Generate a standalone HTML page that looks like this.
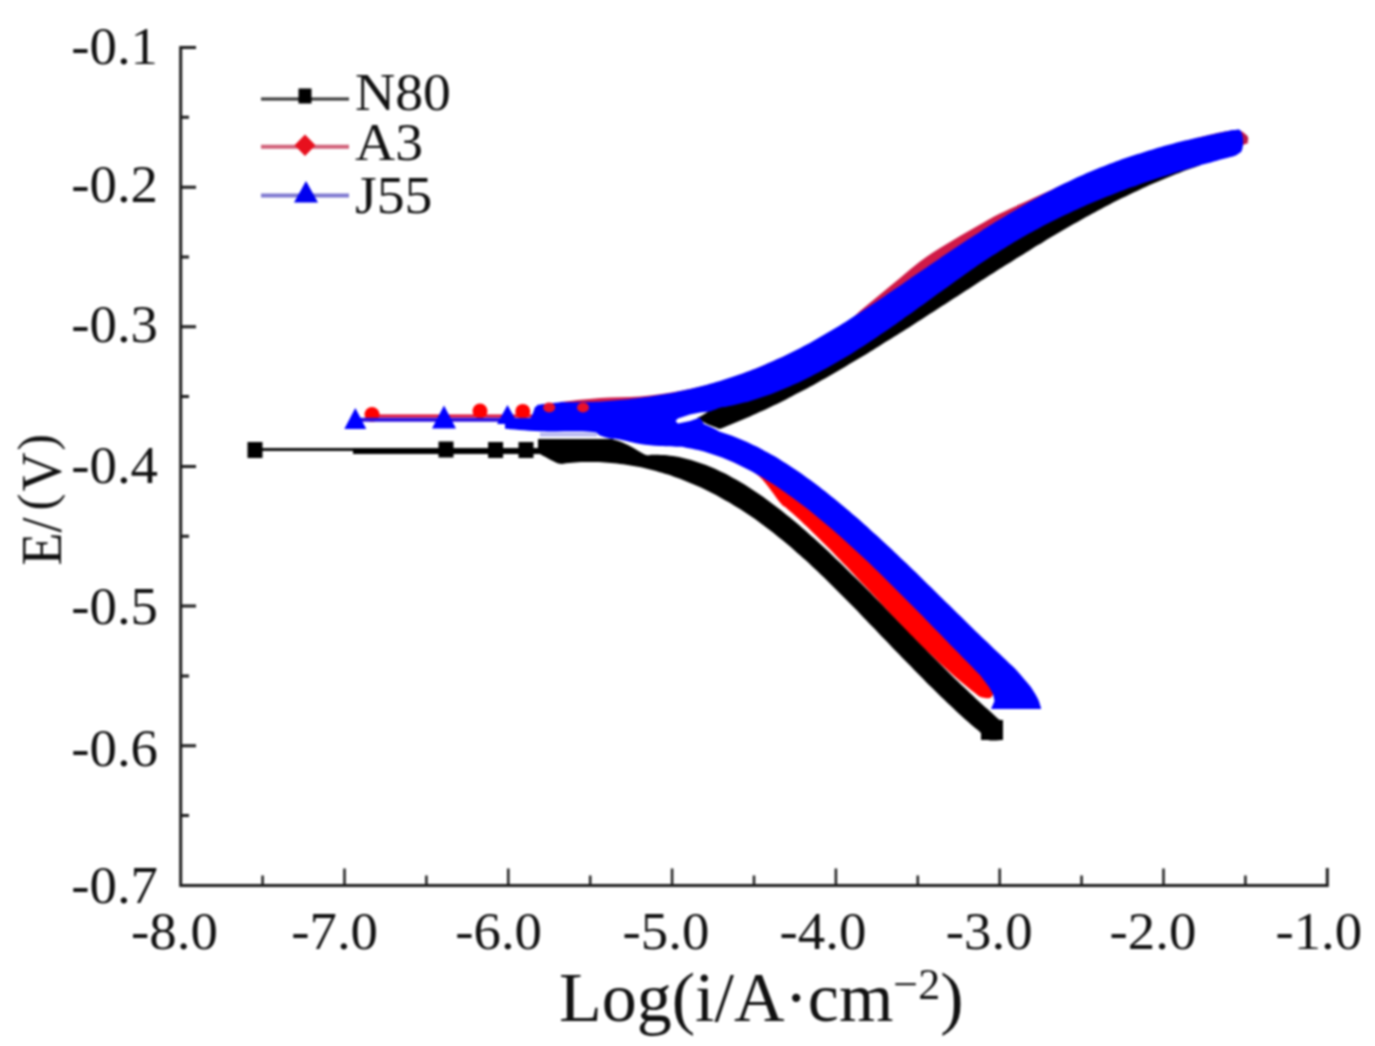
<!DOCTYPE html>
<html><head><meta charset="utf-8"><style>
html,body{margin:0;padding:0;background:#fff;width:1375px;height:1046px;overflow:hidden}
svg{display:block;filter:blur(0.8px)}
text{font-family:"Liberation Serif",serif;fill:#111}
</style></head><body>
<svg width="1375" height="1046" viewBox="0 0 1375 1046">
<rect width="1375" height="1046" fill="#fff"/>
<!-- axes -->
<g stroke="#1c1c1c" stroke-width="3" fill="none" stroke-linecap="butt">
<path d="M196 47.5H180.7V885.5H1327.3V868"/>
<path d="M181 117.3h8 M181 187.2h15 M181 257.0h8 M181 326.8h15 M181 396.6h8 M181 466.5h15 M181 536.3h8 M181 606.1h15 M181 675.9h8 M181 745.8h15 M181 815.6h8"/>
<path stroke-width="2.5" d="M262.6 885.5v-10 M344.5 885.5v-17 M426.4 885.5v-10 M508.3 885.5v-17 M590.2 885.5v-10 M672.1 885.5v-17 M754.0 885.5v-10 M835.9 885.5v-17 M917.8 885.5v-10 M999.7 885.5v-17 M1081.6 885.5v-10 M1163.5 885.5v-17 M1245.4 885.5v-10"/>
</g>
<!-- y tick labels -->
<g font-size="52">
<text transform="translate(71.2 63.5) scale(1.055 1)">-0.1</text>
<text transform="translate(71.2 201.5) scale(1.055 1)">-0.2</text>
<text transform="translate(71.2 342.3) scale(1.055 1)">-0.3</text>
<text transform="translate(71.2 483.2) scale(1.055 1)">-0.4</text>
<text transform="translate(71.2 624.3) scale(1.055 1)">-0.5</text>
<text transform="translate(71.2 766.2) scale(1.055 1)">-0.6</text>
<text transform="translate(71.2 902.8) scale(1.055 1)">-0.7</text>
</g>
<!-- x tick labels -->
<g font-size="52" text-anchor="middle">
<text transform="translate(174.45 949) scale(1.055 1)">-8.0</text>
<text transform="translate(334.6 949) scale(1.055 1)">-7.0</text>
<text transform="translate(498.6 949) scale(1.055 1)">-6.0</text>
<text transform="translate(666 949) scale(1.055 1)">-5.0</text>
<text transform="translate(823 949) scale(1.055 1)">-4.0</text>
<text transform="translate(989.2 949) scale(1.055 1)">-3.0</text>
<text transform="translate(1153 949) scale(1.055 1)">-2.0</text>
<text transform="translate(1318.8 949) scale(1.055 1)">-1.0</text>
</g>
<!-- axis titles -->
<text font-size="54" transform="translate(61 565.5) rotate(-90) scale(1 1.055)">E/<tspan dx="7" dy="-6.5" font-size="50.5">(</tspan><tspan dx="2.5" dy="6.5">V</tspan><tspan dx="1.5" dy="-6.5" font-size="50.5">)</tspan></text>
<text font-size="70" x="559" y="1021">Log(i/A·cm<tspan font-size="44" dy="-22">−2</tspan><tspan dy="22">)</tspan></text>
<!-- legend -->
<g>
<path d="M261 99H349" stroke="#333" stroke-width="3"/>
<rect x="298.5" y="88.5" width="13" height="15" fill="#000"/>
<path d="M261 146.8H349" stroke="#d06078" stroke-width="4"/>
<path d="M305 134.5L315.5 145.3L305 156L294.5 145.3Z" fill="#e8101e"/>
<path d="M261 195.5H349" stroke="#7e78d0" stroke-width="4"/>
<path d="M306 181L318 202.5H294Z" fill="#0000f0"/>
<g font-size="53"><text transform="translate(355 110.3) scale(1.05 1)">N80</text><text transform="translate(355 159.5) scale(1.05 1)">A3</text><text transform="translate(355 212.5) scale(1.05 1)">J55</text></g>
</g>
<!-- N80 black -->
<g fill="#000">
<path d="M255 449.5H353" stroke="#111" stroke-width="3"/>
<path d="M353 451H560" stroke="#000" stroke-width="6"/>
<rect x="247.5" y="442" width="15" height="16"/>
<rect x="438.5" y="441.5" width="15" height="16"/>
<rect x="488.1" y="442" width="15" height="16"/>
<rect x="518.5" y="442" width="15" height="16"/>
<path d="M600.0 439.0C602.5 439.2 610.3 439.0 615.0 440.0C619.7 441.0 624.5 443.4 628.0 445.0C631.5 446.6 633.0 447.8 636.0 449.5C639.0 451.2 643.3 454.1 646.0 454.9C648.7 455.8 650.0 454.7 652.0 454.7C654.0 454.6 656.0 454.6 658.0 454.7C660.0 454.8 662.0 454.9 664.0 455.0C666.0 455.2 668.0 455.4 670.0 455.7C672.0 455.9 674.0 456.2 676.0 456.6C678.0 456.9 680.0 457.3 682.0 457.8C684.0 458.2 686.0 458.7 688.0 459.2C690.0 459.7 692.0 460.3 694.0 460.9C696.0 461.5 698.0 462.2 700.0 462.9C702.0 463.6 704.0 464.3 706.0 465.1C708.0 465.9 710.0 466.7 712.0 467.5C714.0 468.4 716.0 469.3 718.0 470.2C720.0 471.1 722.0 472.1 724.0 473.1C726.0 474.1 728.0 475.2 730.0 476.2C732.0 477.3 734.0 478.4 736.0 479.5C738.0 480.7 740.0 481.9 742.0 483.1C744.0 484.3 746.0 485.5 748.0 486.8C750.0 488.0 752.0 489.3 754.0 490.7C756.0 492.0 758.0 493.4 760.0 494.8C762.0 496.1 764.0 497.6 766.0 499.0C768.0 500.4 770.0 501.9 772.0 503.4C774.0 504.9 776.0 506.4 778.0 508.0C780.0 509.5 782.0 511.1 784.0 512.7C786.0 514.3 788.0 515.9 790.0 517.6C792.0 519.2 794.0 520.9 796.0 522.6C798.0 524.2 800.0 526.0 802.0 527.7C804.0 529.4 806.0 531.2 808.0 532.9C810.0 534.7 812.0 536.5 814.0 538.3C816.0 540.1 818.0 541.9 820.0 543.7C822.0 545.6 824.0 547.4 826.0 549.3C828.0 551.2 830.0 553.1 832.0 554.9C834.0 556.8 836.0 558.8 838.0 560.7C840.0 562.6 842.0 564.5 844.0 566.5C846.0 568.4 848.0 570.4 850.0 572.4C852.0 574.3 854.0 576.3 856.0 578.3C858.0 580.3 860.0 582.3 862.0 584.3C864.0 586.3 866.0 588.3 868.0 590.3C870.0 592.4 872.0 594.4 874.0 596.4C876.0 598.4 878.0 600.5 880.0 602.5C882.0 604.6 884.0 606.6 886.0 608.7C888.0 610.7 890.0 612.8 892.0 614.8C894.0 616.9 896.0 618.9 898.0 621.0C900.0 623.0 902.0 625.1 904.0 627.1C906.0 629.2 908.0 631.2 910.0 633.3C912.0 635.3 914.0 637.4 916.0 639.4C918.0 641.5 920.0 643.5 922.0 645.6C924.0 647.6 926.0 649.6 928.0 651.7C930.0 653.7 932.0 655.7 934.0 657.7C936.0 659.8 938.0 661.8 940.0 663.8C942.0 665.8 944.0 667.8 946.0 669.7C948.0 671.7 950.0 673.7 952.0 675.7C954.0 677.6 956.0 679.6 958.0 681.5C960.0 683.5 962.0 685.4 964.0 687.3C966.0 689.2 968.0 691.1 970.0 693.0C972.0 694.9 974.0 696.8 976.0 698.7C978.0 700.5 980.0 702.4 982.0 704.2C984.0 706.0 986.0 707.8 988.0 709.6C990.0 711.4 992.0 713.2 994.0 714.9C996.0 716.7 998.5 719.3 1000.0 720.1C1001.5 721.0 1002.5 720.0 1003.0 720.0L1003.0 740.0C1000.5 740.0 991.8 741.3 988.0 740.0C984.2 738.7 982.3 734.2 980.0 732.0C977.7 729.9 976.0 728.7 974.0 727.0C972.0 725.2 970.0 723.5 968.0 721.7C966.0 720.0 964.0 718.2 962.0 716.4C960.0 714.5 958.0 712.7 956.0 710.9C954.0 709.0 952.0 707.1 950.0 705.3C948.0 703.4 946.0 701.5 944.0 699.5C942.0 697.6 940.0 695.7 938.0 693.7C936.0 691.8 934.0 689.8 932.0 687.8C930.0 685.9 928.0 683.9 926.0 681.9C924.0 679.9 922.0 677.8 920.0 675.8C918.0 673.8 916.0 671.8 914.0 669.7C912.0 667.7 910.0 665.6 908.0 663.6C906.0 661.5 904.0 659.5 902.0 657.4C900.0 655.3 898.0 653.2 896.0 651.2C894.0 649.1 892.0 647.0 890.0 644.9C888.0 642.8 886.0 640.8 884.0 638.7C882.0 636.6 880.0 634.5 878.0 632.4C876.0 630.3 874.0 628.3 872.0 626.2C870.0 624.1 868.0 622.0 866.0 619.9C864.0 617.9 862.0 615.8 860.0 613.7C858.0 611.7 856.0 609.6 854.0 607.6C852.0 605.5 850.0 603.5 848.0 601.4C846.0 599.4 844.0 597.4 842.0 595.4C840.0 593.4 838.0 591.4 836.0 589.4C834.0 587.4 832.0 585.4 830.0 583.4C828.0 581.5 826.0 579.5 824.0 577.6C822.0 575.7 820.0 573.7 818.0 571.8C816.0 569.9 814.0 568.0 812.0 566.2C810.0 564.3 808.0 562.5 806.0 560.6C804.0 558.8 802.0 557.0 800.0 555.2C798.0 553.4 796.0 551.7 794.0 549.9C792.0 548.2 790.0 546.4 788.0 544.8C786.0 543.1 784.0 541.4 782.0 539.7C780.0 538.1 778.0 536.5 776.0 534.9C774.0 533.3 772.0 531.7 770.0 530.2C768.0 528.7 766.0 527.2 764.0 525.7C762.0 524.2 760.0 522.7 758.0 521.3C756.0 519.9 754.0 518.5 752.0 517.1C750.0 515.7 748.0 514.4 746.0 513.0C744.0 511.7 742.0 510.4 740.0 509.1C738.0 507.9 736.0 506.6 734.0 505.4C732.0 504.2 730.0 503.0 728.0 501.8C726.0 500.7 724.0 499.5 722.0 498.4C720.0 497.3 718.0 496.2 716.0 495.1C714.0 494.1 712.0 493.0 710.0 492.0C708.0 491.0 706.0 490.0 704.0 489.1C702.0 488.1 700.0 487.2 698.0 486.3C696.0 485.4 694.0 484.5 692.0 483.7C690.0 482.8 688.0 482.0 686.0 481.2C684.0 480.4 682.0 479.6 680.0 478.8C678.0 478.1 676.0 477.4 674.0 476.7C672.0 475.9 670.0 475.3 668.0 474.6C666.0 474.0 664.0 473.4 662.0 472.8C660.0 472.2 658.0 471.6 656.0 471.0C654.0 470.5 652.0 470.0 650.0 469.5C648.0 469.0 646.0 468.5 644.0 468.0C642.0 467.6 640.0 467.2 638.0 466.8C636.0 466.4 634.0 466.0 632.0 465.7C630.0 465.3 628.0 465.0 626.0 464.7C624.0 464.4 622.0 464.1 620.0 463.9C618.0 463.6 616.0 463.4 614.0 463.2C612.0 463.0 610.0 462.8 608.0 462.7C606.0 462.5 604.0 462.4 602.0 462.3C600.0 462.2 598.0 462.1 596.0 462.1C594.0 462.0 592.0 462.0 590.0 462.0C588.0 462.0 586.0 462.0 584.0 462.1C582.0 462.1 580.0 462.2 578.0 462.3C576.0 462.4 574.0 462.5 572.0 462.7C570.0 462.8 568.0 463.0 566.0 463.2C564.0 463.4 562.2 464.2 560.0 463.8C557.8 463.5 556.7 462.8 553.0 461.0C549.3 459.2 540.5 454.3 538.0 453.0Z"/>
<path d="M697.0 418.0C698.5 417.2 702.2 415.7 706.0 413.0C709.8 410.3 716.7 403.8 720.0 401.7C723.3 399.7 724.0 401.1 726.1 400.7C728.1 400.3 730.1 399.9 732.1 399.5C734.1 399.1 736.2 398.6 738.2 398.1C740.2 397.6 742.2 397.1 744.2 396.6C746.3 396.1 748.3 395.5 750.3 394.9C752.3 394.3 754.3 393.7 756.4 393.1C758.4 392.4 760.4 391.8 762.4 391.1C764.4 390.4 766.5 389.7 768.5 389.0C770.5 388.2 772.5 387.5 774.5 386.7C776.5 385.9 778.6 385.1 780.6 384.3C782.6 383.5 784.6 382.7 786.6 381.8C788.7 380.9 790.7 380.1 792.7 379.1C794.7 378.2 796.7 377.3 798.8 376.4C800.8 375.4 802.8 374.5 804.8 373.5C806.8 372.5 808.9 371.5 810.9 370.5C812.9 369.4 814.9 368.4 816.9 367.3C819.0 366.3 821.0 365.2 823.0 364.1C825.0 363.0 827.0 361.9 829.1 360.8C831.1 359.6 833.1 358.5 835.1 357.3C837.1 356.2 839.2 355.0 841.2 353.8C843.2 352.6 845.2 351.4 847.2 350.2C849.3 348.9 851.3 347.7 853.3 346.4C855.3 345.2 857.3 343.9 859.4 342.6C861.4 341.3 863.4 340.0 865.4 338.7C867.4 337.4 869.5 336.1 871.5 334.8C873.5 333.4 875.5 332.1 877.5 330.7C879.5 329.3 881.6 328.0 883.6 326.6C885.6 325.2 887.6 323.8 889.6 322.4C891.7 321.0 893.7 319.6 895.7 318.2C897.7 316.7 899.7 315.3 901.8 313.9C903.8 312.4 905.8 311.0 907.8 309.6C909.8 308.1 911.9 306.7 913.9 305.2C915.9 303.7 917.9 302.3 919.9 300.8C922.0 299.4 924.0 297.9 926.0 296.4C928.0 295.0 930.0 293.5 932.1 292.0C934.1 290.6 936.1 289.1 938.1 287.6C940.1 286.2 942.2 284.7 944.2 283.2C946.2 281.8 948.2 280.3 950.2 278.9C952.3 277.4 954.3 276.0 956.3 274.5C958.3 273.1 960.3 271.7 962.4 270.2C964.4 268.8 966.4 267.4 968.4 266.0C970.4 264.6 972.5 263.2 974.5 261.8C976.5 260.4 978.5 259.0 980.5 257.6C982.5 256.3 984.6 254.9 986.6 253.6C988.6 252.2 990.6 250.9 992.6 249.6C994.7 248.3 996.7 247.0 998.7 245.7C1000.7 244.4 1002.7 243.1 1004.8 241.9C1006.8 240.6 1008.8 239.4 1010.8 238.2C1012.8 237.0 1014.9 235.8 1016.9 234.6C1018.9 233.4 1020.9 232.2 1022.9 231.0C1025.0 229.9 1027.0 228.7 1029.0 227.6C1031.0 226.5 1033.0 225.4 1035.1 224.3C1037.1 223.2 1039.1 222.1 1041.1 221.0C1043.1 219.9 1045.2 218.9 1047.2 217.8C1049.2 216.8 1051.2 215.8 1053.2 214.8C1055.3 213.7 1057.3 212.7 1059.3 211.7C1061.3 210.8 1063.3 209.8 1065.4 208.8C1067.4 207.9 1069.4 206.9 1071.4 206.0C1073.4 205.0 1075.5 204.1 1077.5 203.2C1079.5 202.3 1081.5 201.4 1083.5 200.5C1085.5 199.6 1087.6 198.7 1089.6 197.8C1091.6 197.0 1093.6 196.1 1095.6 195.3C1097.7 194.4 1099.7 193.6 1101.7 192.7C1103.7 191.9 1105.7 191.1 1107.8 190.3C1109.8 189.5 1111.8 188.7 1113.8 187.9C1115.8 187.1 1117.9 186.4 1119.9 185.6C1121.9 184.8 1123.9 184.1 1125.9 183.3C1128.0 182.6 1130.0 181.8 1132.0 181.1C1134.0 180.4 1136.0 179.7 1138.1 178.9C1140.1 178.2 1142.1 177.5 1144.1 176.8C1146.1 176.1 1148.2 175.5 1150.2 174.8C1152.2 174.1 1154.2 173.4 1156.2 172.8C1158.3 172.1 1160.3 171.4 1162.3 170.8C1164.3 170.1 1166.3 169.5 1168.4 168.9C1170.4 168.2 1172.4 167.6 1174.4 167.0C1176.4 166.3 1178.5 165.7 1180.5 165.1C1182.5 164.5 1184.5 163.9 1186.5 163.3C1188.5 162.7 1190.6 162.1 1192.6 161.5C1194.6 160.9 1197.6 160.1 1198.6 159.8L1200.0 165.4C1199.0 165.7 1196.0 166.7 1194.0 167.4C1192.0 168.1 1190.0 168.8 1188.0 169.5C1186.0 170.2 1184.0 171.0 1182.0 171.7C1180.0 172.5 1178.0 173.2 1176.0 174.0C1174.0 174.8 1172.0 175.6 1170.0 176.4C1168.0 177.2 1166.0 178.0 1164.0 178.9C1162.0 179.7 1160.0 180.5 1158.0 181.4C1156.0 182.2 1154.0 183.1 1152.0 184.0C1150.0 184.9 1148.0 185.8 1146.0 186.7C1144.0 187.6 1142.0 188.5 1140.0 189.4C1138.0 190.4 1136.0 191.3 1134.0 192.3C1132.0 193.2 1130.0 194.2 1128.0 195.2C1126.0 196.1 1124.0 197.1 1122.0 198.1C1120.0 199.1 1118.0 200.1 1116.0 201.1C1114.0 202.1 1112.0 203.2 1110.0 204.2C1108.0 205.2 1106.0 206.3 1104.0 207.3C1102.0 208.4 1100.0 209.5 1098.0 210.5C1096.0 211.6 1094.0 212.7 1092.0 213.8C1090.0 214.9 1088.0 216.0 1086.0 217.1C1084.0 218.2 1082.0 219.3 1080.0 220.4C1078.0 221.6 1076.0 222.7 1074.0 223.8C1072.0 225.0 1070.0 226.1 1068.0 227.3C1066.0 228.4 1064.0 229.6 1062.0 230.8C1060.0 231.9 1058.0 233.1 1056.0 234.3C1054.0 235.5 1052.0 236.7 1050.0 237.8C1048.0 239.0 1046.0 240.2 1044.0 241.4C1042.0 242.7 1040.0 243.9 1038.0 245.1C1036.0 246.3 1034.0 247.5 1032.0 248.7C1030.0 250.0 1028.0 251.2 1026.0 252.4C1024.0 253.7 1022.0 254.9 1020.0 256.2C1018.0 257.4 1016.0 258.7 1014.0 259.9C1012.0 261.2 1010.0 262.4 1008.0 263.7C1006.0 264.9 1004.0 266.2 1002.0 267.5C1000.0 268.7 998.0 270.0 996.0 271.3C994.0 272.6 992.0 273.8 990.0 275.1C988.0 276.4 986.0 277.7 984.0 279.0C982.0 280.2 980.0 281.5 978.0 282.8C976.0 284.1 974.0 285.4 972.0 286.7C970.0 288.0 968.0 289.3 966.0 290.5C964.0 291.8 962.0 293.1 960.0 294.4C958.0 295.7 956.0 297.0 954.0 298.3C952.0 299.6 950.0 300.9 948.0 302.2C946.0 303.5 944.0 304.8 942.0 306.1C940.0 307.4 938.0 308.7 936.0 309.9C934.0 311.2 932.0 312.5 930.0 313.8C928.0 315.1 926.0 316.4 924.0 317.7C922.0 319.0 920.0 320.2 918.0 321.5C916.0 322.8 914.0 324.1 912.0 325.4C910.0 326.7 908.0 327.9 906.0 329.2C904.0 330.5 902.0 331.7 900.0 333.0C898.0 334.3 896.0 335.5 894.0 336.8C892.0 338.1 890.0 339.3 888.0 340.6C886.0 341.8 884.0 343.1 882.0 344.3C880.0 345.6 878.0 346.8 876.0 348.0C874.0 349.3 872.0 350.5 870.0 351.7C868.0 353.0 866.0 354.2 864.0 355.4C862.0 356.6 860.0 357.8 858.0 359.0C856.0 360.2 854.0 361.4 852.0 362.6C850.0 363.8 848.0 365.0 846.0 366.2C844.0 367.4 842.0 368.6 840.0 369.7C838.0 370.9 836.0 372.1 834.0 373.2C832.0 374.4 830.0 375.5 828.0 376.7C826.0 377.8 824.0 378.9 822.0 380.1C820.0 381.2 818.0 382.3 816.0 383.4C814.0 384.5 812.0 385.6 810.0 386.7C808.0 387.8 806.0 388.9 804.0 390.0C802.0 391.0 800.0 392.1 798.0 393.1C796.0 394.2 794.0 395.2 792.0 396.3C790.0 397.3 788.0 398.3 786.0 399.4C784.0 400.4 782.0 401.4 780.0 402.4C778.0 403.4 776.0 404.4 774.0 405.3C772.0 406.3 770.0 407.3 768.0 408.2C766.0 409.2 764.0 410.1 762.0 411.1C760.0 412.0 758.0 412.9 756.0 413.8C754.0 414.7 752.0 415.6 750.0 416.5C748.0 417.4 746.0 418.2 744.0 419.1C742.0 420.0 740.0 420.8 738.0 421.6C736.0 422.5 734.0 423.3 732.0 424.1C730.0 424.9 728.0 425.7 726.0 426.5C724.0 427.3 721.7 428.6 720.0 428.8C718.3 428.9 718.3 428.4 716.0 427.5C713.7 426.6 709.2 425.1 706.0 423.5C702.8 421.9 698.5 418.9 697.0 418.0Z"/>
<path d="M538 439H612L626 445L600 453L538 453Z"/>
<rect x="981" y="720" width="22" height="20"/>
</g>
<g fill="#f00">
<path d="M372 416H545" stroke="#e0103a" stroke-width="3"/>
<circle cx="372" cy="414.5" r="7.5"/>
<circle cx="480" cy="411" r="7.5"/>
<circle cx="522.8" cy="411.4" r="7.5"/>
<path d="M700.0 440.0C703.7 441.6 717.3 447.6 722.0 449.6C726.7 451.6 726.0 451.2 728.0 452.0C730.0 452.8 732.0 453.7 734.0 454.6C736.0 455.5 738.0 456.5 740.0 457.4C742.0 458.4 744.0 459.4 746.0 460.4C748.0 461.5 750.0 462.5 752.0 463.6C754.0 464.7 756.0 465.8 758.0 467.0C760.0 468.2 762.0 469.3 764.0 470.5C766.0 471.8 768.0 473.0 770.0 474.3C772.0 475.5 774.0 476.8 776.0 478.1C778.0 479.5 780.0 480.8 782.0 482.2C784.0 483.6 786.0 485.0 788.0 486.4C790.0 487.8 792.0 489.2 794.0 490.7C796.0 492.2 798.0 493.7 800.0 495.2C802.0 496.7 804.0 498.2 806.0 499.8C808.0 501.4 810.0 502.9 812.0 504.5C814.0 506.1 816.0 507.8 818.0 509.4C820.0 511.0 822.0 512.7 824.0 514.4C826.0 516.1 828.0 517.8 830.0 519.5C832.0 521.2 834.0 522.9 836.0 524.7C838.0 526.4 840.0 528.2 842.0 530.0C844.0 531.8 846.0 533.6 848.0 535.4C850.0 537.2 852.0 539.0 854.0 540.9C856.0 542.7 858.0 544.6 860.0 546.5C862.0 548.3 864.0 550.2 866.0 552.1C868.0 554.0 870.0 555.9 872.0 557.8C874.0 559.8 876.0 561.7 878.0 563.6C880.0 565.6 882.0 567.5 884.0 569.5C886.0 571.5 888.0 573.4 890.0 575.4C892.0 577.4 894.0 579.4 896.0 581.4C898.0 583.4 900.0 585.4 902.0 587.4C904.0 589.4 906.0 591.4 908.0 593.4C910.0 595.4 912.0 597.5 914.0 599.5C916.0 601.5 918.0 603.6 920.0 605.6C922.0 607.7 924.0 609.7 926.0 611.7C928.0 613.8 930.0 615.8 932.0 617.9C934.0 619.9 936.0 622.0 938.0 624.1C940.0 626.1 942.0 628.2 944.0 630.2C946.0 632.3 948.0 634.3 950.0 636.4C952.0 638.4 954.0 640.5 956.0 642.5C958.0 644.6 960.0 646.6 962.0 648.7C964.0 650.7 966.0 652.8 968.0 654.8C970.0 656.9 972.0 658.9 974.0 660.9C976.0 663.0 978.2 665.8 980.0 667.0C981.8 668.2 982.5 664.2 985.0 668.0C987.5 671.8 993.3 686.3 995.0 690.0L995.0 690.0C994.3 691.2 992.7 696.2 991.0 697.5C989.3 698.8 986.8 698.1 985.0 698.0C983.2 697.9 981.8 697.8 980.0 696.8C978.2 695.9 976.0 693.8 973.9 692.3C971.9 690.7 969.9 689.1 967.9 687.5C965.9 685.9 963.8 684.2 961.8 682.5C959.8 680.9 957.8 679.1 955.8 677.4C953.7 675.6 951.7 673.9 949.7 672.1C947.7 670.3 945.7 668.4 943.6 666.6C941.6 664.7 939.6 662.8 937.6 660.9C935.6 659.0 933.5 657.1 931.5 655.1C929.5 653.2 927.5 651.2 925.5 649.2C923.4 647.3 921.4 645.3 919.4 643.2C917.4 641.2 915.4 639.2 913.3 637.1C911.3 635.1 909.3 633.0 907.3 630.9C905.3 628.8 903.2 626.7 901.2 624.6C899.2 622.5 897.2 620.4 895.2 618.3C893.1 616.2 891.1 614.1 889.1 611.9C887.1 609.8 885.1 607.6 883.0 605.5C881.0 603.3 879.0 601.2 877.0 599.0C874.9 596.9 872.9 594.7 870.9 592.6C868.9 590.4 866.9 588.3 864.8 586.1C862.8 584.0 860.8 581.8 858.8 579.7C856.8 577.5 854.7 575.4 852.7 573.2C850.7 571.1 848.7 569.0 846.7 566.8C844.6 564.7 842.6 562.6 840.6 560.5C838.6 558.4 836.6 556.3 834.5 554.2C832.5 552.1 830.5 550.1 828.5 548.0C826.5 546.0 824.4 543.9 822.4 541.9C820.4 539.9 818.4 537.9 816.4 535.9C814.3 533.9 812.3 531.9 810.3 530.0C808.3 528.0 806.3 526.1 804.2 524.2C802.2 522.3 800.2 520.4 798.2 518.6C796.2 516.7 794.1 514.9 792.1 513.1C790.1 511.3 788.1 509.5 786.1 507.7C784.0 506.0 784.3 507.7 780.0 502.6C775.7 497.4 766.7 483.3 760.0 477.0C753.3 470.7 750.0 470.0 740.0 465.0C730.0 460.0 706.7 450.0 700.0 447.0Z"/>
<path fill="#d01a48" d="M560.0 402.0C566.7 401.3 586.7 398.9 600.0 398.0C613.3 397.1 626.7 397.7 640.0 396.5C653.3 395.3 666.7 393.5 680.0 391.0C693.3 388.5 706.7 385.5 720.0 381.5C733.3 377.5 746.7 372.4 760.0 367.0C773.3 361.6 786.7 355.4 800.0 349.0C813.3 342.6 830.0 334.8 840.0 328.5C850.0 322.2 853.3 316.7 860.0 311.0C866.7 305.3 873.3 300.0 880.0 294.5C886.7 289.0 893.3 283.5 900.0 278.0C906.7 272.5 913.3 266.5 920.0 261.5C926.7 256.5 933.3 252.2 940.0 248.0C946.7 243.8 953.3 239.9 960.0 236.0C966.7 232.1 973.3 228.2 980.0 224.5C986.7 220.8 990.0 218.4 1000.0 213.5C1010.0 208.6 1026.7 201.1 1040.0 195.0C1053.3 188.9 1066.7 182.5 1080.0 177.0C1093.3 171.5 1106.7 166.8 1120.0 162.0C1133.3 157.2 1143.3 152.9 1160.0 148.0C1176.7 143.1 1206.7 135.3 1220.0 132.5C1233.3 129.7 1235.5 130.4 1240.0 131.0C1244.5 131.6 1245.8 135.2 1247.0 136.0L1247.0 142.0C1245.8 142.7 1254.5 141.3 1240.0 146.0C1225.5 150.7 1186.7 161.0 1160.0 170.0C1133.3 179.0 1106.7 188.3 1080.0 200.0C1053.3 211.7 1026.7 224.2 1000.0 240.0C973.3 255.8 946.7 276.7 920.0 295.0C893.3 313.3 866.7 335.0 840.0 350.0C813.3 365.0 786.7 375.3 760.0 385.0C733.3 394.7 706.7 403.5 680.0 408.0C653.3 412.5 620.0 410.8 600.0 412.0C580.0 413.2 566.7 414.5 560.0 415.0Z"/>
<circle cx="1243.5" cy="139" r="4.8" fill="#b81848"/>
</g>
<g fill="#00f">
<path d="M355 419.8H545" stroke="#2a10e0" stroke-width="4"/>
<path d="M355.3 408L366.3 429H344.3Z"/>
<path d="M444 405.5L456 428.5H432Z"/>
<path d="M507.5 405L518.0 424H497.0Z"/>
<path d="M538 404L549 425H527Z"/>
<path d="M540.0 404.5C543.3 404.1 555.7 402.7 560.0 402.3C564.3 401.9 564.0 402.3 566.0 402.3C568.0 402.3 570.0 402.3 572.0 402.3C574.0 402.3 576.0 402.3 578.0 402.2C580.0 402.2 582.0 402.2 584.0 402.1C586.0 402.1 588.0 402.0 590.0 401.9C592.0 401.9 594.1 401.8 596.1 401.7C598.1 401.6 600.1 401.5 602.1 401.4C604.1 401.2 606.1 401.1 608.1 401.0C610.1 400.9 612.1 400.7 614.1 400.5C616.1 400.4 618.1 400.2 620.1 400.0C622.1 399.9 624.1 399.7 626.1 399.5C628.1 399.3 630.1 399.1 632.1 398.8C634.1 398.6 636.1 398.4 638.1 398.1C640.1 397.9 642.1 397.6 644.1 397.3C646.1 397.1 648.1 396.8 650.1 396.5C652.1 396.2 654.1 395.9 656.1 395.6C658.1 395.3 660.1 394.9 662.2 394.6C664.2 394.2 666.2 393.9 668.2 393.5C670.2 393.1 672.2 392.7 674.2 392.4C676.2 392.0 678.2 391.5 680.2 391.1C682.2 390.7 684.2 390.3 686.2 389.8C688.2 389.4 690.2 388.9 692.2 388.4C694.2 387.9 696.2 387.4 698.2 386.9C700.2 386.4 702.2 385.9 704.2 385.4C706.2 384.9 708.2 384.3 710.2 383.7C712.2 383.2 714.2 382.6 716.2 382.0C718.2 381.4 720.2 380.8 722.2 380.2C724.2 379.6 726.2 378.9 728.2 378.3C730.3 377.6 732.3 377.0 734.3 376.3C736.3 375.6 738.3 374.9 740.3 374.2C742.3 373.5 744.3 372.8 746.3 372.0C748.3 371.3 750.3 370.5 752.3 369.7C754.3 369.0 756.3 368.2 758.3 367.4C760.3 366.6 762.3 365.7 764.3 364.9C766.3 364.0 768.3 363.2 770.3 362.3C772.3 361.4 774.3 360.6 776.3 359.6C778.3 358.7 780.3 357.8 782.3 356.9C784.3 355.9 786.3 355.0 788.3 354.0C790.3 353.0 792.3 352.0 794.3 351.0C796.4 350.0 798.4 349.0 800.4 347.9C802.4 346.9 804.4 345.8 806.4 344.8C808.4 343.7 810.4 342.6 812.4 341.5C814.4 340.4 816.4 339.2 818.4 338.1C820.4 336.9 822.4 335.8 824.4 334.6C826.4 333.4 828.4 332.2 830.4 331.1C832.4 329.9 834.4 328.6 836.4 327.4C838.4 326.2 840.4 325.0 842.4 323.7C844.4 322.5 846.4 321.2 848.4 319.9C850.4 318.7 852.4 317.4 854.4 316.1C856.4 314.8 858.4 313.5 860.4 312.2C862.4 310.9 864.5 309.6 866.5 308.3C868.5 307.0 870.5 305.6 872.5 304.3C874.5 303.0 876.5 301.6 878.5 300.3C880.5 298.9 882.5 297.6 884.5 296.2C886.5 294.9 888.5 293.5 890.5 292.1C892.5 290.8 894.5 289.4 896.5 288.0C898.5 286.7 900.5 285.3 902.5 283.9C904.5 282.5 906.5 281.2 908.5 279.8C910.5 278.4 912.5 277.0 914.5 275.6C916.5 274.3 918.5 272.9 920.5 271.5C922.5 270.1 924.5 268.8 926.5 267.4C928.5 266.0 930.6 264.6 932.6 263.3C934.6 261.9 936.6 260.5 938.6 259.2C940.6 257.8 942.6 256.5 944.6 255.1C946.6 253.8 948.6 252.4 950.6 251.1C952.6 249.7 954.6 248.4 956.6 247.1C958.6 245.7 960.6 244.4 962.6 243.1C964.6 241.8 966.6 240.5 968.6 239.1C970.6 237.8 972.6 236.5 974.6 235.2C976.6 233.9 978.6 232.7 980.6 231.4C982.6 230.1 984.6 228.8 986.6 227.6C988.6 226.3 990.6 225.0 992.6 223.8C994.6 222.5 996.6 221.3 998.7 220.1C1000.7 218.8 1002.7 217.6 1004.7 216.4C1006.7 215.2 1008.7 214.0 1010.7 212.8C1012.7 211.6 1014.7 210.4 1016.7 209.3C1018.7 208.1 1020.7 206.9 1022.7 205.8C1024.7 204.6 1026.7 203.5 1028.7 202.3C1030.7 201.2 1032.7 200.1 1034.7 199.0C1036.7 197.9 1038.7 196.8 1040.7 195.7C1042.7 194.6 1044.7 193.5 1046.7 192.5C1048.7 191.4 1050.7 190.4 1052.7 189.4C1054.7 188.3 1056.7 187.3 1058.7 186.3C1060.7 185.3 1062.7 184.3 1064.8 183.3C1066.8 182.3 1068.8 181.4 1070.8 180.4C1072.8 179.5 1074.8 178.5 1076.8 177.6C1078.8 176.7 1080.8 175.8 1082.8 174.9C1084.8 174.0 1086.8 173.1 1088.8 172.3C1090.8 171.4 1092.8 170.6 1094.8 169.8C1096.8 168.9 1098.8 168.1 1100.8 167.3C1102.8 166.5 1104.8 165.7 1106.8 164.9C1108.8 164.2 1110.8 163.4 1112.8 162.7C1114.8 161.9 1116.8 161.2 1118.8 160.5C1120.8 159.7 1122.8 159.0 1124.8 158.3C1126.8 157.6 1128.8 156.9 1130.8 156.3C1132.9 155.6 1134.9 154.9 1136.9 154.3C1138.9 153.6 1140.9 153.0 1142.9 152.4C1144.9 151.7 1146.9 151.1 1148.9 150.5C1150.9 149.9 1152.9 149.3 1154.9 148.7C1156.9 148.1 1158.9 147.6 1160.9 147.0C1162.9 146.4 1164.9 145.9 1166.9 145.3C1168.9 144.8 1170.9 144.2 1172.9 143.7C1174.9 143.2 1176.9 142.7 1178.9 142.1C1180.9 141.6 1182.9 141.1 1184.9 140.6C1186.9 140.1 1188.9 139.6 1190.9 139.2C1192.9 138.7 1194.9 138.2 1196.9 137.7C1198.9 137.3 1201.0 136.8 1203.0 136.4C1205.0 135.9 1207.0 135.5 1209.0 135.0C1211.0 134.6 1213.0 134.2 1215.0 133.7C1217.0 133.3 1219.0 132.9 1221.0 132.5C1223.0 132.1 1225.0 131.7 1227.0 131.3C1229.0 130.9 1231.0 130.3 1233.0 130.1C1235.0 129.8 1238.0 129.6 1239.0 129.5C1243.5 130.5 1244.5 147 1241 152L1241.0 152.0C1240.0 152.6 1237.0 154.9 1235.0 155.8C1233.0 156.7 1231.0 156.9 1228.9 157.4C1226.9 158.0 1224.9 158.5 1222.9 159.1C1220.9 159.6 1218.8 160.1 1216.8 160.7C1214.8 161.2 1212.8 161.8 1210.8 162.4C1208.7 162.9 1206.7 163.5 1204.7 164.1C1202.7 164.6 1200.7 165.2 1198.6 165.8C1196.6 166.4 1194.6 166.9 1192.6 167.5C1190.6 168.1 1188.5 168.7 1186.5 169.3C1184.5 169.9 1182.5 170.5 1180.5 171.1C1178.5 171.7 1176.4 172.3 1174.4 173.0C1172.4 173.6 1170.4 174.2 1168.4 174.9C1166.3 175.5 1164.3 176.1 1162.3 176.8C1160.3 177.4 1158.3 178.1 1156.2 178.8C1154.2 179.4 1152.2 180.1 1150.2 180.8C1148.2 181.5 1146.1 182.1 1144.1 182.8C1142.1 183.5 1140.1 184.2 1138.1 184.9C1136.0 185.7 1134.0 186.4 1132.0 187.1C1130.0 187.8 1128.0 188.6 1125.9 189.3C1123.9 190.1 1121.9 190.8 1119.9 191.6C1117.9 192.4 1115.8 193.1 1113.8 193.9C1111.8 194.7 1109.8 195.5 1107.8 196.3C1105.7 197.1 1103.7 197.9 1101.7 198.7C1099.7 199.6 1097.7 200.4 1095.6 201.3C1093.6 202.1 1091.6 203.0 1089.6 203.8C1087.6 204.7 1085.5 205.6 1083.5 206.5C1081.5 207.4 1079.5 208.3 1077.5 209.2C1075.5 210.1 1073.4 211.0 1071.4 212.0C1069.4 212.9 1067.4 213.9 1065.4 214.8C1063.3 215.8 1061.3 216.8 1059.3 217.7C1057.3 218.7 1055.3 219.7 1053.2 220.8C1051.2 221.8 1049.2 222.8 1047.2 223.8C1045.2 224.9 1043.1 225.9 1041.1 227.0C1039.1 228.1 1037.1 229.2 1035.1 230.3C1033.0 231.4 1031.0 232.5 1029.0 233.6C1027.0 234.7 1025.0 235.9 1022.9 237.0C1020.9 238.2 1018.9 239.4 1016.9 240.6C1014.9 241.8 1012.8 243.0 1010.8 244.2C1008.8 245.4 1006.8 246.6 1004.8 247.9C1002.7 249.1 1000.7 250.4 998.7 251.7C996.7 253.0 994.7 254.3 992.6 255.6C990.6 256.9 988.6 258.2 986.6 259.6C984.6 260.9 982.5 262.3 980.5 263.6C978.5 265.0 976.5 266.4 974.5 267.8C972.5 269.2 970.4 270.6 968.4 272.0C966.4 273.4 964.4 274.8 962.4 276.2C960.3 277.7 958.3 279.1 956.3 280.5C954.3 282.0 952.3 283.4 950.2 284.9C948.2 286.3 946.2 287.8 944.2 289.2C942.2 290.7 940.1 292.2 938.1 293.6C936.1 295.1 934.1 296.6 932.1 298.0C930.0 299.5 928.0 301.0 926.0 302.4C924.0 303.9 922.0 305.4 919.9 306.8C917.9 308.3 915.9 309.7 913.9 311.2C911.9 312.7 909.8 314.1 907.8 315.6C905.8 317.0 903.8 318.4 901.8 319.9C899.7 321.3 897.7 322.7 895.7 324.2C893.7 325.6 891.7 327.0 889.6 328.4C887.6 329.8 885.6 331.2 883.6 332.6C881.6 334.0 879.5 335.3 877.5 336.7C875.5 338.1 873.5 339.4 871.5 340.8C869.5 342.1 867.4 343.4 865.4 344.7C863.4 346.0 861.4 347.3 859.4 348.6C857.3 349.9 855.3 351.2 853.3 352.4C851.3 353.7 849.3 354.9 847.2 356.2C845.2 357.4 843.2 358.6 841.2 359.8C839.2 361.0 837.1 362.2 835.1 363.3C833.1 364.5 831.1 365.6 829.1 366.8C827.0 367.9 825.0 369.0 823.0 370.1C821.0 371.2 819.0 372.3 816.9 373.3C814.9 374.4 812.9 375.4 810.9 376.5C808.9 377.5 806.8 378.5 804.8 379.5C802.8 380.5 800.8 381.4 798.8 382.4C796.7 383.3 794.7 384.2 792.7 385.1C790.7 386.1 788.7 386.9 786.6 387.8C784.6 388.7 782.6 389.5 780.6 390.3C778.6 391.1 776.5 391.9 774.5 392.7C772.5 393.5 770.5 394.2 768.5 395.0C766.5 395.7 764.4 396.4 762.4 397.1C760.4 397.8 758.4 398.4 756.4 399.1C754.3 399.7 752.3 400.3 750.3 400.9C748.3 401.5 746.3 402.1 744.2 402.6C742.2 403.1 740.2 403.6 738.2 404.1C736.2 404.6 734.1 405.1 732.1 405.5C730.1 405.9 728.1 406.3 726.1 406.7C724.0 407.1 722.7 406.9 720.0 407.7C717.3 408.5 711.7 410.9 710.0 411.5L700 412.5L690 414.5L678 418.5L675.5 421L678 423.5L690 421L700 417.5L704 424L712 427.5L716.0 429.5C716.7 429.9 718.3 431.1 720.0 431.8C721.7 432.5 724.0 433.1 726.0 433.7C728.0 434.4 730.0 435.1 732.0 435.8C734.0 436.6 736.1 437.4 738.1 438.2C740.1 439.0 742.1 439.8 744.1 440.7C746.1 441.6 748.1 442.5 750.1 443.4C752.1 444.4 754.1 445.3 756.1 446.3C758.1 447.3 760.1 448.4 762.1 449.4C764.1 450.5 766.2 451.6 768.2 452.7C770.2 453.8 772.2 455.0 774.2 456.1C776.2 457.3 778.2 458.5 780.2 459.7C782.2 461.0 784.2 462.2 786.2 463.5C788.2 464.8 790.2 466.1 792.2 467.4C794.3 468.8 796.3 470.1 798.3 471.5C800.3 472.9 802.3 474.3 804.3 475.7C806.3 477.2 808.3 478.6 810.3 480.1C812.3 481.5 814.3 483.0 816.3 484.6C818.3 486.1 820.3 487.6 822.3 489.2C824.4 490.7 826.4 492.3 828.4 493.9C830.4 495.5 832.4 497.1 834.4 498.7C836.4 500.4 838.4 502.0 840.4 503.7C842.4 505.4 844.4 507.0 846.4 508.7C848.4 510.4 850.4 512.2 852.4 513.9C854.5 515.6 856.5 517.4 858.5 519.1C860.5 520.9 862.5 522.7 864.5 524.5C866.5 526.2 868.5 528.0 870.5 529.9C872.5 531.7 874.5 533.5 876.5 535.3C878.5 537.2 880.5 539.0 882.6 540.9C884.6 542.8 886.6 544.6 888.6 546.5C890.6 548.4 892.6 550.3 894.6 552.2C896.6 554.1 898.6 556.0 900.6 557.9C902.6 559.8 904.6 561.7 906.6 563.6C908.6 565.6 910.6 567.5 912.7 569.5C914.7 571.4 916.7 573.3 918.7 575.3C920.7 577.2 922.7 579.2 924.7 581.2C926.7 583.1 928.7 585.1 930.7 587.0C932.7 589.0 934.7 591.0 936.7 592.9C938.7 594.9 940.7 596.9 942.8 598.9C944.8 600.8 946.8 602.8 948.8 604.8C950.8 606.7 952.8 608.7 954.8 610.7C956.8 612.7 958.8 614.6 960.8 616.6C962.8 618.6 964.8 620.5 966.8 622.5C968.8 624.5 970.9 626.4 972.9 628.4C974.9 630.3 976.9 632.3 978.9 634.2C980.9 636.2 982.9 638.1 984.9 640.1C986.9 642.0 988.9 643.9 990.9 645.8C992.9 647.8 994.9 649.7 996.9 651.6C998.9 653.5 1001.0 655.4 1003.0 657.3C1005.0 659.2 1007.0 661.1 1009.0 662.9C1011.0 664.8 1012.1 665.4 1015.0 668.5C1017.9 671.7 1023.7 678.4 1026.5 681.8C1029.3 685.2 1030.1 685.8 1032.0 688.7C1033.9 691.6 1036.5 695.8 1038.0 699.0C1039.5 702.2 1040.5 706.5 1041.0 708.0L1041 709L991 709L994.5 701L993 694L989 687L980.0 675.0C979.0 674.0 976.0 671.0 974.0 668.9C972.0 666.9 970.0 664.9 968.0 662.8C966.0 660.8 964.0 658.7 962.0 656.7C960.0 654.6 958.0 652.6 956.0 650.5C954.0 648.5 952.0 646.4 950.0 644.4C948.0 642.3 946.0 640.3 944.0 638.2C942.0 636.2 940.0 634.1 938.0 632.1C936.0 630.0 934.0 627.9 932.0 625.9C930.0 623.8 928.0 621.8 926.0 619.7C924.0 617.7 922.0 615.7 920.0 613.6C918.0 611.6 916.0 609.5 914.0 607.5C912.0 605.5 910.0 603.4 908.0 601.4C906.0 599.4 904.0 597.4 902.0 595.4C900.0 593.4 898.0 591.4 896.0 589.4C894.0 587.4 892.0 585.4 890.0 583.4C888.0 581.4 886.0 579.5 884.0 577.5C882.0 575.5 880.0 573.6 878.0 571.6C876.0 569.7 874.0 567.8 872.0 565.8C870.0 563.9 868.0 562.0 866.0 560.1C864.0 558.2 862.0 556.3 860.0 554.5C858.0 552.6 856.0 550.7 854.0 548.9C852.0 547.0 850.0 545.2 848.0 543.4C846.0 541.6 844.0 539.8 842.0 538.0C840.0 536.2 838.0 534.4 836.0 532.7C834.0 530.9 832.0 529.2 830.0 527.5C828.0 525.8 826.0 524.1 824.0 522.4C822.0 520.7 820.0 519.0 818.0 517.4C816.0 515.8 814.0 514.1 812.0 512.5C810.0 510.9 808.0 509.4 806.0 507.8C804.0 506.2 802.0 504.7 800.0 503.2C798.0 501.7 796.0 500.2 794.0 498.7C792.0 497.2 790.0 495.8 788.0 494.4C786.0 493.0 784.0 491.6 782.0 490.2C780.0 488.8 778.0 487.5 776.0 486.1C774.0 484.8 772.0 483.5 770.0 482.3C768.0 481.0 766.0 479.8 764.0 478.5C762.0 477.3 760.0 476.2 758.0 475.0C756.0 473.8 754.0 472.7 752.0 471.6C750.0 470.5 748.0 469.5 746.0 468.4C744.0 467.4 742.0 466.4 740.0 465.4C738.0 464.5 736.0 463.5 734.0 462.6C732.0 461.7 730.0 460.8 728.0 460.0C726.0 459.2 724.0 458.4 722.0 457.6C720.0 456.8 718.0 456.1 716.0 455.4C714.0 454.7 712.0 454.0 710.0 453.4C708.0 452.8 706.0 452.2 704.0 451.6C702.0 451.1 700.0 450.5 698.0 450.1C696.0 449.6 694.0 449.1 692.0 448.7C690.0 448.4 688.0 448.0 686.0 447.7C684.0 447.4 684.3 447.1 680.0 446.8C675.7 446.6 666.7 446.5 660.0 446.0C653.3 445.5 646.7 445.1 640.0 444.0C633.3 442.9 625.0 440.4 620.0 439.5C615.0 438.6 613.3 439.2 610.0 438.5C606.7 437.8 603.3 436.6 600.0 435.5C596.7 434.4 600.0 432.4 590.0 431.7C580.0 431.0 554.2 431.7 540.0 431.2C525.8 430.7 510.8 429.1 505.0 428.7L505 419L531 419L535 407Z"/>
</g>
<g fill="#e8102a">
<ellipse cx="549.2" cy="407.5" rx="6" ry="5"/>
<ellipse cx="583" cy="407.5" rx="6" ry="5"/>
</g>
<path d="M540 434.5H597" stroke="#b8b8f0" stroke-width="4"/>
</svg>
</body></html>
